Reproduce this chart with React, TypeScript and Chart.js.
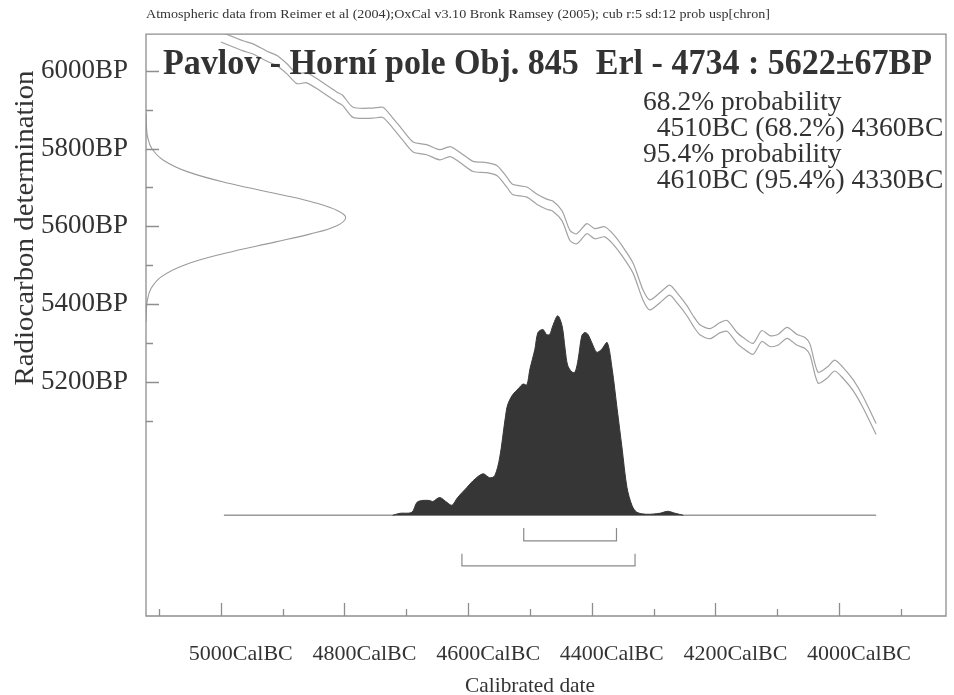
import React, { useEffect, useRef } from "react";
import { Chart, registerables } from "chart.js";

Chart.register(...registerables);

// ---------------- data ----------------
// calibration curve (years BC, upper / lower 1-sigma envelope in BP)
const curveYears = [5000, 4964, 4948, 4926, 4909, 4893, 4877, 4861, 4840, 4812, 4803, 4786, 4754, 4738, 4723, 4706, 4689, 4667, 4646, 4629, 4613, 4592, 4570, 4553, 4537, 4528, 4505, 4489, 4473, 4463, 4448, 4435, 4424, 4408, 4395, 4379, 4366, 4350, 4333, 4317, 4306, 4290, 4274, 4262, 4246, 4236, 4225, 4209, 4193, 4181, 4165, 4155, 4139, 4125, 4112, 4099, 4084, 4068, 4055, 4047, 4034, 4019, 4007, 3994, 3977, 3961, 3940];
const curveHigh = [6100, 6077, 6069, 6051, 6039, 6018, 5993, 5995, 5975, 5945, 5937, 5906, 5904, 5906, 5881, 5848, 5817, 5810, 5797, 5805, 5790, 5767, 5764, 5756, 5726, 5708, 5701, 5683, 5670, 5665, 5640, 5589, 5581, 5607, 5594, 5599, 5581, 5548, 5505, 5436, 5411, 5429, 5449, 5429, 5396, 5370, 5347, 5337, 5352, 5358, 5327, 5314, 5299, 5332, 5319, 5322, 5340, 5322, 5314, 5297, 5225, 5238, 5256, 5238, 5205, 5162, 5093];
const curveLow = [6074, 6051, 6043, 6025, 6013, 5992, 5967, 5969, 5949, 5919, 5911, 5880, 5878, 5880, 5855, 5822, 5791, 5784, 5771, 5779, 5764, 5741, 5738, 5730, 5700, 5682, 5675, 5657, 5644, 5639, 5614, 5563, 5555, 5581, 5568, 5573, 5555, 5522, 5479, 5410, 5385, 5403, 5423, 5403, 5370, 5344, 5321, 5311, 5326, 5330, 5299, 5286, 5271, 5304, 5291, 5294, 5312, 5294, 5286, 5269, 5197, 5210, 5228, 5210, 5177, 5133, 5065];

const c14BP = [5890, 5860, 5830, 5800, 5770, 5740, 5710, 5680, 5660, 5640, 5622, 5600, 5580, 5560, 5530, 5500, 5470, 5440, 5410, 5380, 5354];
const c14Density = [0, 0.002, 0.008, 0.029, 0.087, 0.21, 0.42, 0.69, 0.85, 0.96, 1, 0.95, 0.82, 0.65, 0.39, 0.19, 0.076, 0.025, 0.007, 0.0015, 0];

// calibrated probability distribution
const distYears = [4722, 4710, 4691, 4683, 4675, 4662, 4657, 4646, 4634, 4626, 4617, 4602, 4592, 4576, 4565, 4557, 4549, 4540, 4536, 4528, 4519, 4511, 4505, 4500, 4492, 4487, 4479, 4473, 4468, 4463, 4455, 4448, 4443, 4439, 4432, 4427, 4422, 4416, 4411, 4406, 4400, 4392, 4384, 4375, 4367, 4359, 4351, 4343, 4335, 4327, 4311, 4290, 4277, 4265, 4252];
const distProb = [0, 0.01, 0.015, 0.064, 0.074, 0.074, 0.069, 0.089, 0.064, 0.05, 0.089, 0.139, 0.173, 0.208, 0.188, 0.198, 0.287, 0.485, 0.554, 0.604, 0.634, 0.658, 0.653, 0.733, 0.832, 0.916, 0.931, 0.906, 0.906, 0.95, 1.0, 0.95, 0.832, 0.752, 0.718, 0.718, 0.782, 0.901, 0.916, 0.906, 0.866, 0.817, 0.832, 0.866, 0.733, 0.535, 0.337, 0.139, 0.05, 0.015, 0.005, 0.01, 0.02, 0.01, 0];
const distRange = [4995, 3940];

// probability ranges (BC)
const range68 = [4510, 4360];
const range95 = [4610, 4330];

// axis ticks
const xLabelTicks = [5000, 4800, 4600, 4400, 4200, 4000];
const xMinorTicks = [5100, 4900, 4700, 4500, 4300, 4100, 3900];
const yLabelTicks = [6000, 5800, 5600, 5400, 5200];
const yMinorTicks = [5900, 5700, 5500, 5300, 5100];

const headerText = "Atmospheric data from Reimer et al (2004);OxCal v3.10 Bronk Ramsey (2005); cub r:5 sd:12 prob usp[chron]";
const titleText = "Pavlov - Horní pole Obj. 845  Erl - 4734 : 5622±67BP";
const probLines = ["68.2% probability", "  4510BC (68.2%) 4360BC", "95.4% probability", "  4610BC (95.4%) 4330BC"];

// ---------------- layout constants ----------------
const X_MIN = 3827;
const X_MAX = 5121;
const Y_MIN = 4598;
const Y_MAX = 6094;
const BASE_BP = 4857; // baseline of calibrated distribution
const DIST_AMP = 513; // height of distribution peak in BP units
const GAUSS_AMP = 323; // width of radiocarbon curve in years
const BR68 = [4824, 4791];
const BR95 = [4758, 4727];
const FONT = "'Liberation Serif', 'Times New Roman', serif";
const TEXT = "#333333";
const LINE = "#8e8e8e";

function drawFitted(ctx, text, x, y, font, width, align) {
  ctx.font = font;
  const w = ctx.measureText(text).width;
  ctx.save();
  ctx.translate(x, y);
  ctx.scale(width / w, 1);
  ctx.textAlign = "left";
  ctx.textBaseline = "alphabetic";
  ctx.fillText(text, align === "center" ? -w / 2 : 0, 0);
  ctx.restore();
}

const decor = {
  id: "decor",
  afterDatasetsDraw(chart) {
    const { ctx, chartArea, scales } = chart;
    const { left, right, top, bottom } = chartArea;
    const xs = scales.x;
    const ys = scales.y;
    ctx.save();
    ctx.strokeStyle = LINE;
    ctx.lineWidth = 1.3;
    ctx.beginPath();
    ctx.rect(left, top, right - left, bottom - top);
    ctx.stroke();
    ctx.beginPath();
    yLabelTicks.forEach((v) => {
      const p = Math.round(ys.getPixelForValue(v)) + 0.5;
      ctx.moveTo(left, p);
      ctx.lineTo(left + 13, p);
    });
    yMinorTicks.forEach((v) => {
      const p = Math.round(ys.getPixelForValue(v)) + 0.5;
      ctx.moveTo(left, p);
      ctx.lineTo(left + 7, p);
    });
    xLabelTicks.forEach((v) => {
      const p = Math.round(xs.getPixelForValue(v)) + 0.5;
      ctx.moveTo(p, bottom);
      ctx.lineTo(p, bottom - 13);
    });
    xMinorTicks.forEach((v) => {
      const p = Math.round(xs.getPixelForValue(v)) + 0.5;
      ctx.moveTo(p, bottom);
      ctx.lineTo(p, bottom - 7);
    });
    ctx.stroke();

    ctx.fillStyle = TEXT;
    drawFitted(ctx, headerText, 146, 18, `13px ${FONT}`, 624, "left");
    drawFitted(ctx, titleText, 163, 74, `bold 36px ${FONT}`, 769, "left");
    const px = [643, 643, 643, 643];
    const py = [110, 136, 162, 188];
    probLines.forEach((t, i) => {
      ctx.font = `27.5px ${FONT}`;
      ctx.textAlign = "left";
      ctx.textBaseline = "alphabetic";
      ctx.fillText(t, px[i], py[i]);
    });
    drawFitted(ctx, "Calibrated date", 530, 692, `22px ${FONT}`, 130, "center");
    ctx.save();
    ctx.translate(33, 228);
    ctx.rotate(-Math.PI / 2);
    drawFitted(ctx, "Radiocarbon determination", 0, 0, `28px ${FONT}`, 315, "center");
    ctx.restore();
    ctx.restore();
  },
};

export default function App() {
  const ref = useRef(null);
  useEffect(() => {
    const curveHi = curveYears.map((x, i) => ({ x, y: curveHigh[i] }));
    const curveLo = curveYears.map((x, i) => ({ x, y: curveLow[i] }));
    const gauss = c14BP.map((y, i) => ({ x: X_MAX - c14Density[i] * GAUSS_AMP, y }));
    const dist = distYears.map((x, i) => ({ x, y: BASE_BP + distProb[i] * DIST_AMP }));
    const base = distRange.map((x) => ({ x, y: BASE_BP }));
    const br = (r, b) => [
      { x: r[0], y: b[0] },
      { x: r[0], y: b[1] },
      { x: r[1], y: b[1] },
      { x: r[1], y: b[0] },
    ];
    const lineDs = (data, color, width, tension) => ({
      data,
      showLine: true,
      borderColor: color,
      borderWidth: width,
      pointRadius: 0,
      tension,
      fill: false,
    });
    const chart = new Chart(ref.current, {
      type: "scatter",
      data: {
        datasets: [
          {
            data: dist,
            showLine: true,
            borderColor: "#363636",
            backgroundColor: "#363636",
            borderWidth: 1,
            pointRadius: 0,
            tension: 0.3,
            fill: { value: BASE_BP },
          },
          lineDs(base, "#9a9a9a", 1.5, 0),
          lineDs(curveHi, "#a2a2a2", 1.2, 0.25),
          lineDs(curveLo, "#a2a2a2", 1.2, 0.25),
          lineDs(gauss, "#9a9a9a", 1.1, 0.4),
          lineDs(br(range68, BR68), "#8a8a8a", 1.2, 0),
          lineDs(br(range95, BR95), "#8a8a8a", 1.2, 0),
        ],
      },
      options: {
        animation: false,
        responsive: false,
        devicePixelRatio: 1,
        layout: { padding: { left: 0, right: 8, top: 28, bottom: 0 } },
        plugins: { legend: { display: false }, tooltip: { enabled: false }, title: { display: false } },
        scales: {
          x: {
            type: "linear",
            min: X_MIN,
            max: X_MAX,
            reverse: true,
            grid: { display: false, drawTicks: false },
            border: { display: false },
            afterBuildTicks: (s) => {
              s.ticks = xLabelTicks.map((v) => ({ value: v }));
            },
            afterFit: (s) => {
              s.height = 79;
            },
            ticks: {
              autoSkip: false,
              maxRotation: 0,
              padding: 25,
              labelOffset: 20,
              color: TEXT,
              font: { family: FONT, size: 22 },
              callback: (v) => `${v}CalBC`,
            },
          },
          y: {
            type: "linear",
            min: Y_MIN,
            max: Y_MAX,
            grid: { display: false, drawTicks: false },
            border: { display: false },
            afterBuildTicks: (s) => {
              s.ticks = yLabelTicks.map((v) => ({ value: v }));
            },
            afterFit: (s) => {
              s.width = 146;
            },
            ticks: {
              autoSkip: false,
              padding: 18,
              color: TEXT,
              font: { family: FONT, size: 27 },
              callback: (v) => `${v}BP`,
            },
          },
        },
      },
      plugins: [decor],
    });
    return () => chart.destroy();
  }, []);
  return (
    <canvas
      ref={ref}
      width={954}
      height={695}
      style={{ position: "absolute", left: 0, top: 0, width: 954, height: 695, background: "#fff" }}
    />
  );
}
